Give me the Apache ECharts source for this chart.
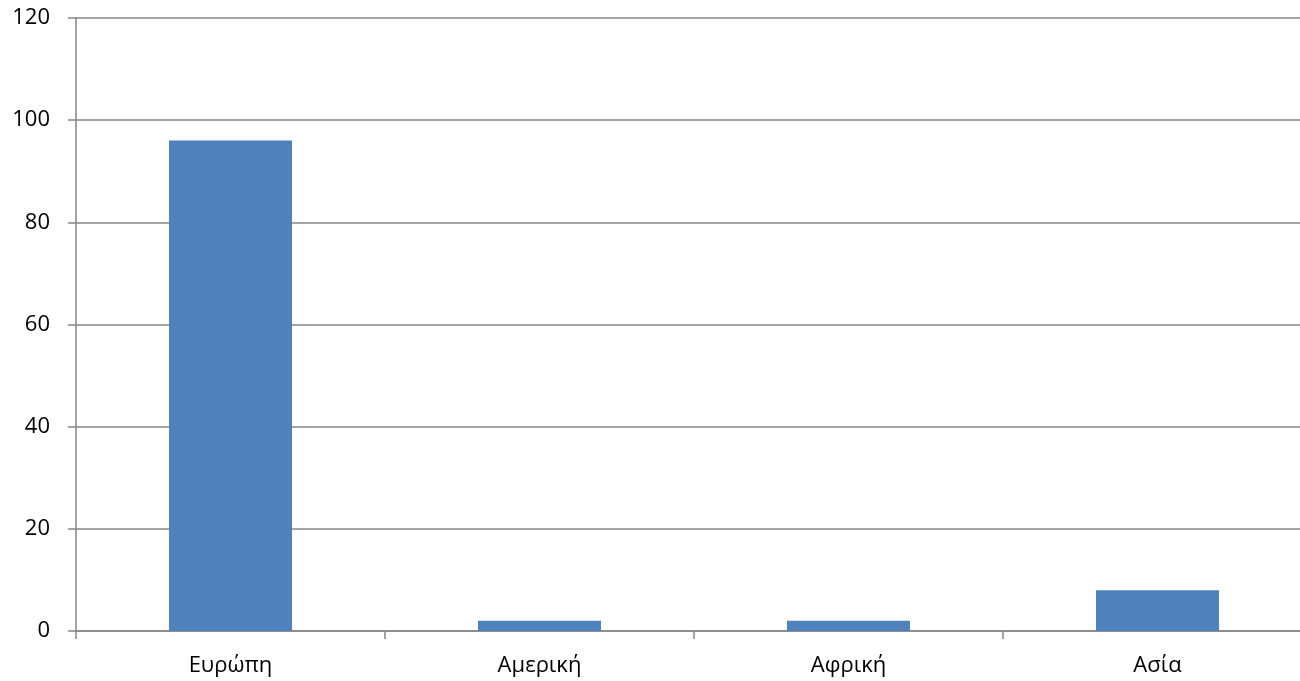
<!DOCTYPE html>
<html>
<head>
<meta charset="utf-8">
<script src="https://cdn.jsdelivr.net/npm/echarts@6/dist/echarts.min.js"></script>
<style>
  html, body { margin: 0; padding: 0; background: #ffffff; }
  #chart { width: 1300px; height: 681px; }
</style>
</head>
<body>
<div id="chart"></div>
<script>
// Regions and their counts
const categories = ['Ευρώπη', 'Αμερική', 'Αφρική', 'Ασία'];
const counts = [96, 2, 2, 8];

// Value axis range
const yMin = 0;
const yMax = 120;
const yStep = 20;

const chart = echarts.init(document.getElementById('chart'), null, { renderer: 'canvas' });

const fontFamily = '"Open Sans", "Noto Sans", sans-serif';
const axisGray = '#868686';

chart.setOption({
  animation: false,
  backgroundColor: '#ffffff',
  // the plot area runs slightly past the right edge of the canvas
  grid: {
    left: 76, width: 1236, top: 18, height: 613,
    containLabel: false,
    outerBoundsMode: 'none'
  },
  xAxis: {
    type: 'category',
    data: categories,
    boundaryGap: true,
    axisLine: { show: true, lineStyle: { color: axisGray, width: 1.5 } },
    axisTick: { show: true, length: 8, lineStyle: { color: axisGray, width: 1.5 } },
    axisLabel: { color: '#000000', fontFamily: fontFamily, fontSize: 22, margin: 24 },
    splitLine: { show: false }
  },
  yAxis: {
    type: 'value',
    min: yMin,
    max: yMax,
    interval: yStep,
    axisLine: { show: true, lineStyle: { color: axisGray, width: 1.5 } },
    axisTick: { show: true, length: 8, lineStyle: { color: axisGray, width: 1.5 } },
    axisLabel: { color: '#000000', fontFamily: fontFamily, fontSize: 22, margin: 26 },
    splitLine: { show: true, lineStyle: { color: axisGray, width: 1.5 } }
  },
  series: [{
    type: 'bar',
    data: counts,
    barWidth: '39.8%',
    itemStyle: { color: '#4F81BD' }
  }]
});
</script>
</body>
</html>
